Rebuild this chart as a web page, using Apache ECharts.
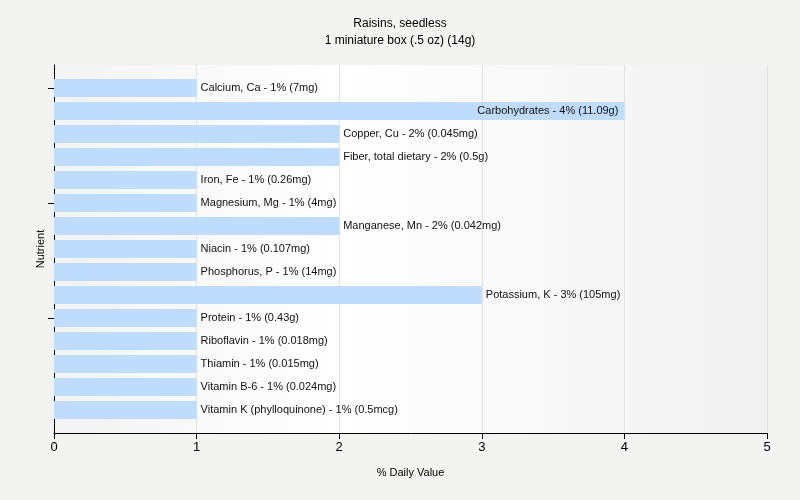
<!DOCTYPE html>
<html><head><meta charset="utf-8">
<script src="https://cdn.jsdelivr.net/npm/echarts@6/dist/echarts.min.js"></script>
<style>html,body{margin:0;padding:0;background:#f3f3f2;}#c{width:800px;height:500px;}</style>
</head><body><div id="c"></div>
<script>
var categories = ["Calcium, Ca","Carbohydrates","Copper, Cu","Fiber, total dietary","Iron, Fe","Magnesium, Mg","Manganese, Mn","Niacin","Phosphorus, P","Potassium, K","Protein","Riboflavin","Thiamin","Vitamin B-6","Vitamin K (phylloquinone)"];
var percents = [1,4,2,2,1,1,2,1,1,3,1,1,1,1,1];
var amounts = ["7mg","11.09g","0.045mg","0.5g","0.26mg","4mg","0.042mg","0.107mg","14mg","105mg","0.43g","0.018mg","0.015mg","0.024mg","0.5mcg"];
var xTicks = [0,1,2,3,4,5];

var font = "Liberation Sans, Arial, sans-serif";
var cats = [""].concat(categories).concat([""]);
var data = [{value:'-'}];
categories.forEach(function(c,i){
  var lbl = c + " - " + percents[i] + "% (" + amounts[i] + ")";
  var item = {value: percents[i], name: lbl};
  if (percents[i] >= 4) item.label = {position:'insideRight', offset:[-2,0]};
  data.push(item);
});
data.push({value:'-'});

var chart = echarts.init(document.getElementById('c'), null, {renderer:'canvas'});
chart.setOption({
  backgroundColor:'#f3f3f2',
  animation:false,
  title:{text:"Raisins, seedless\n1 miniature box (.5 oz) (14g)", left:'center', top:10,
    textStyle:{fontFamily:font, fontSize:12, fontWeight:'normal', color:'#000', lineHeight:17}},
  grid:{left:54, right:33, top:65, bottom:67,
    show:true, borderWidth:0,
    backgroundColor:{type:'linear',x:0,y:0,x2:1,y2:0,colorStops:[
      {offset:0,color:'#f3f3f3'},{offset:0.4,color:'#ffffff'},{offset:1,color:'#f1f1f1'}]}},
  xAxis:{type:'value', min:0, max:5, interval:1,
    name:'% Daily Value', nameLocation:'middle', nameGap:34,
    nameTextStyle:{fontFamily:font, fontSize:11, color:'#000'},
    axisLine:{show:true, lineStyle:{color:'#000', width:1}},
    axisTick:{show:true, length:6, lineStyle:{color:'#000'}},
    axisLabel:{fontFamily:font, fontSize:13, color:'#000', margin:8},
    splitLine:{show:true, lineStyle:{color:'#e2e2e2', width:1}}},
  yAxis:{type:'category', data:cats, inverse:true, boundaryGap:false,
    name:'Nutrient', nameLocation:'middle', nameGap:8, nameRotate:90,
    nameTextStyle:{fontFamily:font, fontSize:11, color:'#000'},
    axisLine:{show:true, lineStyle:{color:'#000', width:1}},
    axisTick:{show:true, length:6, lineStyle:{color:'#000'},
      interval:function(i){return i===1||i===6||i===11;}},
    axisLabel:{show:false},
    splitLine:{show:false}},
  series:[{type:'bar', data:data, barWidth:18, itemStyle:{color:'#c0dcfc'},
    label:{show:true, position:'right', distance:4, formatter:function(p){return p.name;},
      fontFamily:font, fontSize:11, color:'#111'}}]
});
</script></body></html>
